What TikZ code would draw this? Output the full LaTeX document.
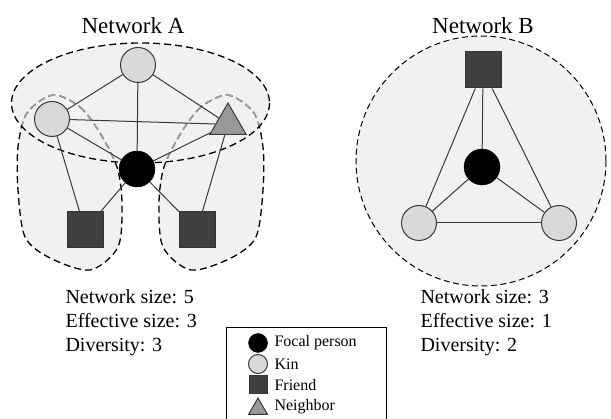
\documentclass[tikz,border=0pt]{standalone}
\usepackage{fontspec}
\setmainfont{Liberation Serif}
\usetikzlibrary{shapes.geometric}

\definecolor{areagray}{HTML}{F1F1F1}
\definecolor{kingray}{HTML}{D9D9D9}
\definecolor{friendgray}{HTML}{404040}
\definecolor{neighgray}{HTML}{999999}
\definecolor{edgegray}{HTML}{3A3A3A}

\begin{document}
\begin{tikzpicture}[
    x=1pt, y=-1pt,
    focal/.style={circle, draw=black, fill=black, minimum size=36},
    kin/.style={circle, draw=edgegray, fill=kingray, line width=1pt, minimum size=35},
    friend/.style={rectangle, draw=black!80, fill=friendgray, line width=1pt, minimum size=36},
    neighbor/.style={regular polygon, regular polygon sides=3, draw=edgegray, fill=neighgray, line width=1pt, minimum size=42, inner sep=0pt},
    tie/.style={draw=edgegray, line width=1pt},
    zone/.style={dash pattern=on 7pt off 4pt, line width=1.3pt},
    title/.style={font=\fontsize{23}{27}\selectfont},
    stats/.style={anchor=north west, align=left, font=\fontsize{20}{24}\selectfont},
    legtext/.style={anchor=west, font=\fontsize{16}{18}\selectfont}
]
\useasboundingbox (0,0) rectangle (611,419);

% Network A: shaded zones
\fill[areagray] plot[smooth cycle] coordinates {(53,95) (80,107) (100,133) (117,167) (122,203) (118,247) (90,270) (50,258) (25,237) (18,190) (18,147) (27,113)};
\fill[areagray] plot[smooth cycle] coordinates {(228,95) (201,107) (181,133) (164,167) (159,203) (163,247) (191,270) (231,258) (256,237) (263,190) (263,147) (254,113)};
\fill[areagray] (140.5,103) ellipse [x radius=129, y radius=60];

% Network A: zone borders
\draw[zone] plot[smooth cycle] coordinates {(53,95) (80,107) (100,133) (117,167) (122,203) (118,247) (90,270) (50,258) (25,237) (18,190) (18,147) (27,113)};
\draw[zone] plot[smooth cycle] coordinates {(228,95) (201,107) (181,133) (164,167) (159,203) (163,247) (191,270) (231,258) (256,237) (263,190) (263,147) (254,113)};
\begin{scope}
\clip (140.5,103) ellipse [x radius=129, y radius=60];
\draw[zone, draw=gray!75, line width=1.6pt] plot[smooth cycle] coordinates {(53,95) (80,107) (100,133) (117,167) (122,203) (118,247) (90,270) (50,258) (25,237) (18,190) (18,147) (27,113)};
\draw[zone, draw=gray!75, line width=1.6pt] plot[smooth cycle] coordinates {(228,95) (201,107) (181,133) (164,167) (159,203) (163,247) (191,270) (231,258) (256,237) (263,190) (263,147) (254,113)};
\end{scope}
\draw[zone] (140.5,103) ellipse [x radius=129, y radius=60];

% Network B: shaded zone
\draw[zone, fill=areagray, dash pattern=on 6pt off 3.5pt, line width=1pt] (481,161) circle [radius=125];

% Titles
\node[title] (titleA) at (133,26) {Network A};
\node[title] (titleB) at (483,26) {Network B};

% Network A: people
\node[focal] (egoA) at (137,169) {};
\node[kin] (kinA1) at (138,65) {};
\node[kin] (kinA2) at (52,119) {};
\node[neighbor] (neiA) at (228,124) {};
\node[friend] (friA1) at (85,230) {};
\node[friend] (friA2) at (197,230) {};

% Network A: ties
\draw[tie] (kinA1) -- (kinA2);
\draw[tie] (kinA1) -- (neiA);
\draw[tie] (kinA1) -- (egoA);
\draw[tie] (kinA2) -- (neiA.west);
\draw[tie] (kinA2) -- (egoA);
\draw[tie] (neiA) -- (egoA);
\draw[tie] (kinA2) -- (friA1);
\draw[tie] (neiA) -- (friA2);
\draw[tie] (egoA) -- (friA1);
\draw[tie] (egoA) -- (friA2);

% Network B: people
\node[focal] (egoB) at (482,167) {};
\node[friend] (friB) at (483,70) {};
\node[kin] (kinB1) at (419,223) {};
\node[kin] (kinB2) at (559,223) {};

% Network B: ties
\draw[tie] (friB) -- (kinB1);
\draw[tie] (friB) -- (kinB2);
\draw[tie] (friB) -- (egoB);
\draw[tie] (egoB) -- (kinB1);
\draw[tie] (egoB) -- (kinB2);
\draw[tie] (kinB1) -- (kinB2);

% Measures
\node[stats] (statsA) at (62,286) {Network size: 5\\Effective size: 3\\Diversity: 3};
\node[stats] (statsB) at (417,286) {Network size: 3\\Effective size: 1\\Diversity: 2};

% Legend
\draw[line width=0.8pt] (226,327) rectangle (386,440);
\node[focal, minimum size=19] (legFocal) at (258,343) {};
\node[kin, minimum size=19] (legKin) at (258,364) {};
\node[friend, minimum size=18] (legFriend) at (258,385) {};
\node[neighbor, minimum size=22] (legNeighbor) at (258,409) {};
\node[legtext] (txtFocal) at (271,343) {Focal person};
\node[legtext] (txtKin) at (271,364) {Kin};
\node[legtext] (txtFriend) at (271,385) {Friend};
\node[legtext] (txtNeighbor) at (271,407) {Neighbor};

\end{tikzpicture}
\end{document}
